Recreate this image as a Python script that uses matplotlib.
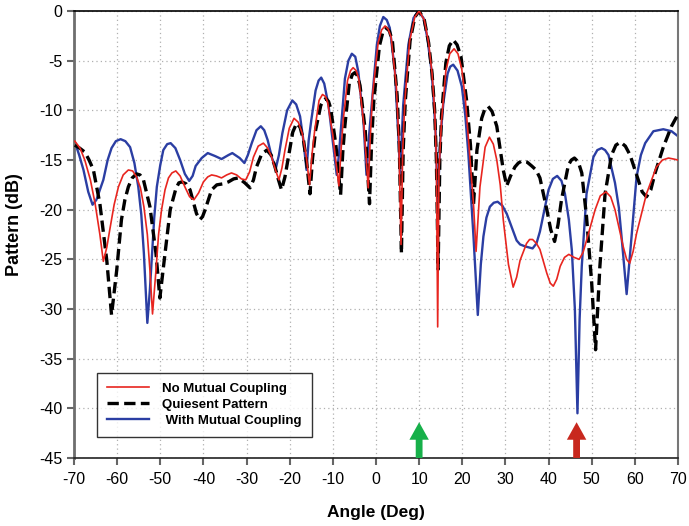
import matplotlib
matplotlib.use("Agg")
import matplotlib.pyplot as plt

plt.rcParams['font.family'] = ['Liberation Sans', 'DejaVu Sans']
plt.rcParams['axes.unicode_minus'] = False

# ---- data ----
red_angle = [-69.8, -68.6, -67.5, -66.2, -65.1, -64.0, -63.2, -62.4, -61.7, -60.7, -59.7, -58.6, -57.4,
             -56.4, -55.5, -54.6, -53.8, -53.0, -52.4, -51.8, -51.0, -50.4, -49.7, -48.9, -48.1, -47.3,
             -46.4, -45.4, -44.3, -43.2, -42.2, -41.1, -40.0, -39.0, -38.1, -37.0, -35.8, -34.6, -33.5,
             -32.3, -31.2, -30.2, -29.3, -28.4, -27.3, -26.1, -25.1, -24.2, -23.3, -22.5, -21.8, -21.1,
             -20.1, -19.0, -18.0, -17.1, -16.2, -15.4, -14.8, -14.2, -13.2, -12.4, -11.7, -11.2, -10.0,
             -9.2, -8.6, -8.1, -7.6, -6.6, -5.9, -5.3, -4.6, -4.0, -2.8, -1.8, -1.3, -0.8, 0.5, 1.3, 2.1,
             2.8, 3.5, 4.7, 5.3, 5.8, 6.2, 6.7, 7.8, 9.0, 10.0, 11.2, 12.2, 13.0, 13.6, 14.0, 14.3, 14.6,
             15.2, 16.2, 17.1, 18.1, 19.0, 19.9, 20.7, 21.4, 22.6, 23.2, 24.1, 25.3, 26.3, 27.2, 28.0,
             28.8, 29.5, 30.7, 31.8, 32.6, 33.4, 34.9, 35.6, 36.3, 37.2, 38.0, 39.6, 40.4, 41.1, 41.9,
             42.7, 43.7, 44.7, 45.9, 47.1, 48.0, 48.8, 50.8, 52.0, 53.3, 54.4, 55.4, 57.3, 58.1, 58.8,
             59.6, 60.4, 62.7, 65.0, 66.4, 67.8, 69.0, 70.0]
red_db = [-13.1, -13.8, -15.0, -17.0, -19.4, -22.5, -25.2, -23.8, -22.0, -19.5, -17.7, -16.5, -16.0,
          -16.1, -16.7, -17.8, -19.7, -22.5, -26.1, -30.5, -26.1, -22.5, -20.0, -18.0, -16.8, -16.3,
          -16.1, -16.6, -17.7, -18.7, -19.0, -18.3, -17.2, -16.7, -16.5, -16.6, -16.8, -16.5, -16.3,
          -16.5, -16.9, -17.0, -16.2, -14.7, -13.6, -13.3, -13.8, -14.7, -16.0, -17.0, -15.8, -14.0,
          -11.8, -10.8, -11.2, -12.3, -14.5, -17.5, -14.3, -12.0, -9.0, -8.4, -8.6, -9.2, -12.5,
          -15.5, -17.6, -14.0, -11.0, -7.0, -6.0, -5.7, -6.0, -6.8, -11.5, -17.8, -12.5, -8.5, -3.2, -1.9,
          -1.5, -1.8, -2.6, -7.5, -13.0, -23.5, -14.0, -9.0, -3.0, -0.6, 0.0, -0.9, -3.2, -6.3, -10.0,
          -15.0, -31.8, -16.0, -11.0, -6.0, -4.3, -3.8, -4.3, -5.9, -8.8, -12.7, -19.4, -24.2, -17.7,
          -13.7, -12.7, -13.4, -15.0, -17.5, -21.0, -25.5, -27.8, -26.8, -25.1, -23.4, -23.0, -23.0,
          -23.4, -24.0, -26.4, -27.4, -27.7, -27.0, -25.7, -24.8, -24.5, -24.8, -25.0, -24.3, -23.1,
          -20.0, -18.6, -18.2, -18.7, -20.0, -23.7, -25.0, -25.4, -24.2, -22.4, -18.4, -15.7, -15.0,
          -14.8, -14.9, -15.0]

black_angle = [-69.8, -68.7, -67.5, -66.5, -65.5, -64.0, -62.4, -61.3, -60.1, -59.0, -58.2, -57.4, -56.5,
               -55.5, -54.7, -53.9, -52.4, -51.0, -50.1, -48.9, -47.7, -46.4, -45.7, -45.0, -44.0, -43.1,
               -41.6, -40.8, -40.2, -39.6, -38.1, -36.9, -35.5, -34.2, -33.0, -31.9, -30.4, -29.2, -28.4,
               -27.7, -26.5, -25.3, -24.3, -23.4, -22.6, -21.9, -21.1, -20.3, -19.3, -18.4, -17.6, -16.8,
               -16.0, -15.3, -14.7, -14.0, -12.8, -12.2, -11.6, -11.0, -10.5, -9.3, -8.2, -7.7, -7.2,
               -6.2, -5.5, -4.9, -4.3, -3.7, -2.5, -1.5, -1.0, -0.5, 0.8, 1.6, 2.4, 3.1, 3.8, 4.9, 5.4,
               5.9, 6.3, 6.8, 7.9, 9.0, 10.0, 11.2, 12.2, 13.0, 13.6, 14.0, 14.4, 14.8, 15.2, 16.2, 17.0,
               17.9, 18.8, 19.7, 21.0, 21.9, 22.6, 23.4, 24.5, 25.2, 26.0, 26.9, 28.0, 29.5, 30.3, 31.2,
               32.2, 33.0, 33.8, 35.0, 36.1, 37.1, 38.0, 39.6, 40.5, 41.4, 42.2, 43.0, 44.6, 45.3, 46.0,
               46.9, 47.7, 48.8, 50.0, 50.9, 51.9, 53.1, 54.6, 55.6, 56.7, 57.8, 58.9, 60.8, 61.7, 62.7,
               63.7, 64.7, 66.6, 68.5, 70.0]
black_db = [-13.5, -13.8, -14.2, -15.0, -16.0, -19.4, -25.1, -30.6, -26.1, -21.0, -19.0, -17.7, -16.8,
            -16.4, -16.5, -17.0, -19.7, -24.4, -28.9, -24.4, -20.0, -17.9, -17.3, -17.2, -17.4, -18.0,
            -20.4, -21.0, -20.7, -20.0, -18.0, -17.5, -17.4, -17.2, -16.9, -16.8, -17.3, -17.8, -17.0,
            -15.7, -14.4, -14.0, -14.5, -15.7, -17.0, -18.0, -16.7, -14.7, -12.2, -11.3, -11.7, -13.0,
            -15.5, -18.4, -14.8, -12.0, -9.5, -9.0, -8.8, -9.1, -9.8, -13.5, -18.5, -14.2, -11.5,
            -7.3, -6.4, -6.2, -6.5, -7.5, -12.0, -19.4, -13.0, -9.0, -3.5, -2.1, -1.7, -2.0, -3.0, -8.5,
            -13.5, -24.4, -14.0, -9.0, -3.0, -0.6, 0.0, -0.9, -3.2, -6.3, -10.0, -15.0, -26.0, -15.0,
            -10.5, -5.2, -3.5, -2.9, -3.4, -4.6, -9.0, -13.5, -19.5, -14.0, -10.8, -9.9, -9.6, -10.1,
            -11.6, -16.0, -17.6, -16.6, -15.7, -15.3, -15.1, -15.2, -15.6, -16.0, -16.8, -20.0, -22.0,
            -23.2, -21.5, -19.0, -15.5, -15.0, -14.8, -15.2, -16.3, -20.7, -27.4, -34.1, -25.7, -18.4,
            -14.5, -13.5, -13.2, -13.6, -14.5, -17.0, -18.2, -18.7, -18.0, -16.3, -13.7, -11.6, -10.4]

blue_angle = [-69.8, -68.8, -67.8, -66.7, -65.7, -64.8, -64.0, -63.2, -62.2, -61.3, -60.3, -59.2, -58.1,
              -57.0, -56.0, -55.1, -54.4, -53.8, -53.0, -52.4, -52.0, -51.4, -50.8, -50.0, -49.3, -48.4,
              -47.6, -46.5, -45.4, -44.3, -43.3, -42.5, -41.8, -40.4, -39.0, -37.3, -35.8, -34.2, -33.3,
              -31.6, -30.5, -29.7, -28.8, -27.7, -26.7, -25.9, -25.1, -24.1, -23.2, -22.5, -21.7, -20.6,
              -19.4, -18.5, -17.6, -16.9, -16.1, -15.6, -15.0, -14.0, -13.3, -12.7, -12.0, -11.0, -9.9,
              -9.1, -8.6, -8.3, -7.2, -6.4, -5.6, -4.8, -4.1, -2.9, -2.2, -1.6, -1.0, 0.2, 0.9, 1.7, 2.5,
              3.2, 4.4, 5.2, 5.6, 6.0, 6.3, 7.5, 8.7, 9.8, 11.0, 11.9, 12.9, 13.8, 14.3, 14.9, 15.6, 16.6,
              17.2, 17.9, 18.9, 19.9, 20.7, 21.4, 22.6, 23.6, 24.3, 24.9, 25.6, 26.4, 27.3, 28.2, 29.3,
              30.3, 32.6, 33.4, 34.6, 35.5, 36.3, 37.2, 38.0, 40.0, 41.0, 42.0, 43.0, 43.8, 44.7, 45.4,
              46.1, 46.7, 47.2, 47.7, 48.8, 50.4, 51.3, 52.3, 53.1, 53.9, 55.4, 56.3, 57.0, 58.1, 58.7,
              59.3, 60.4, 61.4, 62.4, 64.3, 66.6, 68.5, 70.0]
blue_db = [-13.2, -14.5, -16.0, -18.2, -19.5, -19.0, -18.0, -17.0, -15.0, -13.8, -13.1, -12.9, -13.1,
           -13.7, -15.3, -17.7, -20.5, -24.4, -31.4, -28.0, -25.1, -20.8, -17.7, -15.5, -14.0, -13.4,
           -13.3, -13.8, -15.0, -16.4, -17.1, -16.6, -15.6, -14.8, -14.3, -14.6, -14.9, -14.5, -14.3,
           -14.8, -15.3, -14.5, -13.3, -12.0, -11.6, -12.0, -13.0, -14.8, -15.8, -14.5, -12.3, -10.0,
           -9.0, -9.4, -10.6, -12.8, -16.0, -13.0, -11.0, -8.0, -7.0, -6.7, -7.3, -9.5, -13.5,
           -16.5, -14.5, -12.8, -6.8, -5.0, -4.3, -4.6, -6.1, -11.1, -16.5, -12.5, -9.5, -3.4, -1.5, -0.6,
           -0.9, -1.7, -6.1, -12.8, -16.5, -12.5, -9.5, -3.4, -0.7, 0.0, -0.7, -2.7, -6.1, -12.0, -19.4,
           -13.0, -9.3, -6.3, -5.6, -5.4, -6.0, -7.6, -10.5, -14.3, -22.7, -30.6, -25.5, -22.7, -20.8,
           -19.7, -19.3, -19.2, -19.6, -20.4, -23.1, -23.5, -23.7, -23.8, -23.9, -23.4, -22.2, -18.0,
           -16.9, -16.6, -17.1, -18.4, -21.0, -24.1, -30.0, -40.5, -31.0, -25.7, -18.4, -14.7, -14.0,
           -13.8, -14.0, -14.5, -17.3, -19.8, -23.1, -28.5, -25.5, -22.4, -16.7, -14.5, -13.3, -12.1,
           -11.9, -12.1, -12.6]

arrow_angles = [10.0, 46.5]
arrow_colors = ['#17b04a', '#c8281e']
series_labels = ['No Mutual Coupling', 'Quiesent Pattern', ' With Mutual Coupling']
x_ticks = list(range(-70, 71, 10))
y_ticks = list(range(-45, 1, 5))

fig = plt.figure(figsize=(6.89, 5.26), dpi=100)
ax = fig.add_axes([0.1074, 0.1293, 0.8766, 0.8497])

l1, = ax.plot(red_angle, red_db, color='#e8251f', lw=1.2, zorder=4)
l2, = ax.plot(black_angle, black_db, color='black', lw=2.4, dashes=(3.4, 1.6), zorder=3)
l3, = ax.plot(blue_angle, blue_db, color='#2b3ea3', lw=1.7, zorder=2)

ax.set_xlim(-70, 70)
ax.set_ylim(-45, 0)
ax.set_xticks(x_ticks)
ax.set_yticks(y_ticks)
ax.grid(True, color='#b0b0b0', linestyle=(0, (1, 2.5)), lw=0.9)
ax.tick_params(axis='both', labelsize=11.5, direction='out', length=5, width=1.5, color='#666666')
ax.tick_params(axis='x', pad=5)
ax.spines['left'].set_color('#6e6e6e')
ax.spines['left'].set_linewidth(2)
ax.spines['bottom'].set_color('#222222')
ax.spines['bottom'].set_linewidth(1.2)
ax.spines['top'].set_color('black')
ax.spines['top'].set_linewidth(1.2)
ax.spines['right'].set_color('#777777')
ax.spines['right'].set_linewidth(1.5)

ax.set_xlabel('Angle (Deg)', fontsize=12.5, fontweight='bold', labelpad=13)
ax.set_ylabel('Pattern (dB)', fontsize=13, fontweight='bold')
ax.yaxis.set_label_coords(-0.084, 0.523)

for xa, c in zip(arrow_angles, arrow_colors):
    ax.annotate('', xy=(xa, -41.4), xytext=(xa, -45.0),
                arrowprops=dict(arrowstyle='simple,head_length=0.9,head_width=1.0,tail_width=0.35',
                                color=c, lw=0, mutation_scale=14, shrinkA=0, shrinkB=0),
                zorder=6, annotation_clip=False)

leg = ax.legend([l1, l2, l3], series_labels, loc='lower left', bbox_to_anchor=(0.038, 0.047),
                prop={'weight': 'bold', 'size': 9.5}, frameon=True, fancybox=False,
                edgecolor='black', borderpad=0.75, handlelength=3.2, labelspacing=0.3,
                handletextpad=1.0, borderaxespad=0)
leg.get_frame().set_linewidth(1.0)

fig.savefig('out.png', dpi=100)
